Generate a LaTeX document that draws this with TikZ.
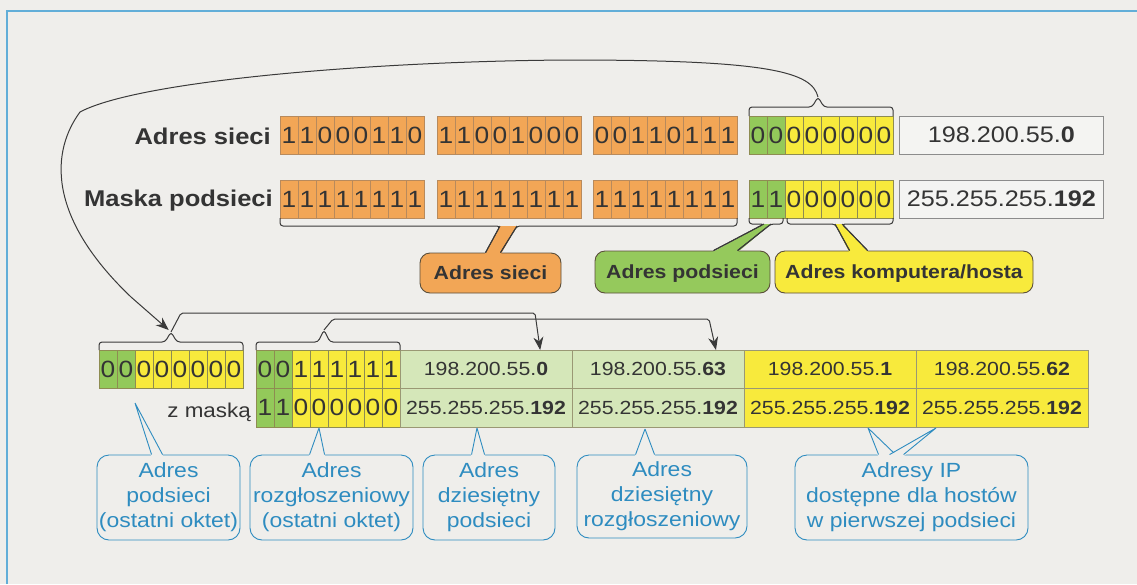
\documentclass[tikz,border=0pt]{standalone}
\usepackage{fontspec}
\setmainfont{Liberation Sans}[FakeStretch=1.12]
\usetikzlibrary{arrows.meta,calc}

\definecolor{paper}{HTML}{EFEEEB}
\definecolor{framecol}{HTML}{62AED8}
\definecolor{ink}{HTML}{343434}
\definecolor{linkgray}{HTML}{3A3A3A}
\definecolor{orangeA}{HTML}{F2A656}
\definecolor{orangeB}{HTML}{F2A656}
\definecolor{orangeedge}{HTML}{B88A5C}
\definecolor{splitA}{HTML}{93C95A}
\definecolor{splitB}{HTML}{F8EA3C}
\definecolor{splitedge}{HTML}{8E8C52}
\definecolor{palegreen}{HTML}{D5E7B9}
\definecolor{tableedge}{HTML}{9A9874}
\definecolor{boxedge}{HTML}{8C8C8C}
\definecolor{boxfill}{HTML}{F4F4F2}
\definecolor{noteorange}{HTML}{F2A656}
\definecolor{notegreen}{HTML}{95C95C}
\definecolor{noteyellow}{HTML}{F8EA3C}
\definecolor{noteedge}{HTML}{5A4E3A}
\definecolor{blueedge}{HTML}{2E8CC0}

% one octet of bit cells: name, left x, centre y, height, colour kind, digits
\newcommand{\octet}[6]{%
  \foreach \d [count=\i] in {#6} {%
    \ifnum\i<3 \def\cellfill{#5A}\else\def\cellfill{#5B}\fi
    \node[bitcell, minimum height=#4, fill=\cellfill, draw=#5edge]
      (#1-\i) at ({#2+(\i-1)*18},#3) {\d};
  }%
}
% pointer of a callout: fill, edge style, tip left, tip right, base left, base right
\newcommand{\calloutwedge}[6]{%
  \fill[#1] (#3) -- (#4) -- ($(#6)+(0.5,1.3)$) -- ($(#5)+(-0.5,1.3)$) -- cycle;
  \draw[#2] (#5) -- (#3) (#4) -- (#6);%
}

\begin{document}
\begin{tikzpicture}[x=1pt,y=-1pt,
  link/.style={draw=linkgray, line width=1pt},
  tipped/.style={-{Stealth[length=13pt,width=10pt]}},
  bitcell/.style={anchor=west, minimum width=18pt, inner sep=0pt, outer sep=0pt,
    line width=0.6pt, text=ink, font=\fontsize{23.5}{24}\selectfont},
  rowlabel/.style={anchor=base east, inner sep=0pt, text=ink,
    font=\fontsize{22.8}{24}\selectfont\bfseries},
  decbox/.style={anchor=west, minimum width=204pt, minimum height=38pt, inner sep=0pt,
    draw=boxedge, fill=boxfill, line width=0.7pt, text=ink,
    font=\fontsize{22.5}{24}\selectfont},
  cell/.style={anchor=north west, minimum width=172pt, minimum height=38.5pt,
    inner sep=0pt, outer sep=0pt, draw=tableedge, line width=0.6pt, text=ink,
    font=\fontsize{19}{20}\selectfont},
  tagnote/.style={rounded corners=10pt, draw=noteedge, line width=0.9pt, inner sep=0pt,
    text=ink, text height=13.6pt, text depth=0pt,
    font=\fontsize{19}{20}\selectfont\bfseries},
  bluenote/.style={rounded corners=12pt, draw=blueedge, fill=paper, line width=0.9pt,
    inner sep=0pt, align=center, text=blueedge, minimum height=85pt,
    font=\fontsize{20.5}{25}\selectfont},
  blueline/.style={draw=blueedge, line width=0.9pt}
]
% page
\fill[paper] (0,0) rectangle (1137,584);
\useasboundingbox (0,0) rectangle (1137,584);
\draw[framecol, line width=1.1pt] (7,584) -- (7,11) -- (1137,11);

% ---------- network address and mask ----------
\node[rowlabel] (lblnet) at (271,144) {Adres sieci};
\node[rowlabel] (lblmask) at (273,206) {Maska podsieci};

\octet{a1}{280}{135}{38pt}{orange}{1,1,0,0,0,1,1,0}
\octet{a2}{437}{135}{38pt}{orange}{1,1,0,0,1,0,0,0}
\octet{a3}{593}{135}{38pt}{orange}{0,0,1,1,0,1,1,1}
\octet{a4}{749}{135}{38pt}{split}{0,0,0,0,0,0,0,0}
\node[decbox] (netdec) at (899,135) {198.200.55.\textbf{0}};

\octet{m1}{280}{199}{38pt}{orange}{1,1,1,1,1,1,1,1}
\octet{m2}{437}{199}{38pt}{orange}{1,1,1,1,1,1,1,1}
\octet{m3}{593}{199}{38pt}{orange}{1,1,1,1,1,1,1,1}
\octet{m4}{749}{199}{38pt}{split}{1,1,0,0,0,0,0,0}
\node[decbox] (maskdec) at (899,199) {255.255.255.\textbf{192}};

% ---------- tags under the mask ----------
\node[tagnote, fill=noteorange, minimum width=141pt, minimum height=40pt]
  (tagnet) at (490.5,273) {Adres sieci};
\node[tagnote, fill=notegreen, minimum width=175pt, minimum height=42pt]
  (tagsub) at (682.5,272) {Adres podsieci};
\node[tagnote, fill=noteyellow, minimum width=258pt, minimum height=42pt]
  (taghost) at (904,272) {Adres komputera/hosta};

\coordinate (bnl) at (500,226);
\coordinate (bnr) at (517,226);
\coordinate (bnbl) at ($(tagnet.north west)+(66,0)$);
\coordinate (bnbr) at ($(tagnet.north west)+(81,0)$);
\calloutwedge{noteorange}{link}{bnl}{bnr}{bnbl}{bnbr}
\draw[link, rounded corners=3pt] (m1-1.south west) -- ++(0,8) -- (bnl) -- (bnbl);
\draw[link, rounded corners=3pt] (m3-8.south east) -- ++(0,8) -- (bnr) -- (bnbr);

\coordinate (bsl) at (764,224);
\coordinate (bsr) at (771,224);
\coordinate (bsbl) at ($(tagsub.north west)+(119,0)$);
\coordinate (bsbr) at ($(tagsub.north west)+(143,0)$);
\calloutwedge{notegreen}{link}{bsl}{bsr}{bsbl}{bsbr}
\draw[link, rounded corners=3pt] (m4-1.south west) -- ++(0,6) -- (bsl) -- (bsbl);
\draw[link, rounded corners=3pt] ($(m4-2.south east)+(-2,0)$) -- ++(0,6) -- (bsr) -- (bsbr);

\coordinate (bhl) at (835,224);
\coordinate (bhr) at (842,224);
\coordinate (bhbl) at ($(taghost.north west)+(75,0)$);
\coordinate (bhbr) at ($(taghost.north west)+(93,0)$);
\calloutwedge{noteyellow}{link}{bhl}{bhr}{bhbl}{bhbr}
\draw[link, rounded corners=3pt] ($(m4-3.south west)+(2,0)$) -- ++(0,6) -- (bhl) -- (bhbl);
\draw[link, rounded corners=3pt] (m4-8.south east) -- ++(0,6) -- (bhr) -- (bhbr);

% ---------- first subnet ----------
\octet{bl}{99}{369}{38pt}{split}{0,0,0,0,0,0,0,0}
\octet{ga}{256}{369.25}{38.5pt}{split}{0,0,1,1,1,1,1,1}
\octet{gb}{256}{407.75}{38.5pt}{split}{1,1,0,0,0,0,0,0}
\node[anchor=base east, inner sep=0pt, text=ink, font=\fontsize{20}{22}\selectfont]
  (withmask) at (251,417) {z maską};

\node[cell, fill=palegreen] (c1) at (400,350) {198.200.55.\textbf{0}};
\node[cell, fill=palegreen] (c2) at (572,350) {198.200.55.\textbf{63}};
\node[cell, fill=splitB] (c3) at (744,350) {198.200.55.\textbf{1}};
\node[cell, fill=splitB] (c4) at (916,350) {198.200.55.\textbf{62}};
\node[cell, fill=palegreen] (d1) at (400,388.5) {255.255.255.\textbf{192}};
\node[cell, fill=palegreen] (d2) at (572,388.5) {255.255.255.\textbf{192}};
\node[cell, fill=splitB] (d3) at (744,388.5) {255.255.255.\textbf{192}};
\node[cell, fill=splitB] (d4) at (916,388.5) {255.255.255.\textbf{192}};

% brace over the subnet octet of the network address, carried down to the subnet bits
\coordinate (topbrace) at (818,97);
\coordinate (bltip) at (171,332);
\draw[link, rounded corners=3pt] (a4-1.north west) -- ++(0,-9) -- (812,107) -- (topbrace)
  -- (824,107) -- ($(a4-8.north east)+(0,-9)$) -- (a4-8.north east);
\draw[link, tipped, shorten >=3pt] (topbrace) .. controls (812,72) and (770,60) .. (570,60)
  .. controls (380,61) and (140,80) .. (80,112)
  .. controls (52,150) and (45,215) .. (131,297) -- (bltip);

% braces over the subnet and broadcast bits
\draw[link, rounded corners=3pt] (bl-1.north west) -- ++(0,-8) -- (165,342) -- (bltip)
  -- (177,342) -- ($(bl-8.north east)+(0,-8)$) -- (bl-8.north east);
\coordinate (c1in) at ($(c1.north west)!0.815!(c1.north east)$);
\draw[link, tipped, rounded corners=2pt] (bltip) -- (181,313) -- (535,313) -- (c1in);

\coordinate (g2tip) at (324,330);
\draw[link, rounded corners=3pt] (ga-1.north west) -- ++(0,-8) -- (318,342) -- (g2tip)
  -- (330,342) -- ($(ga-8.north east)+(0,-8)$) -- (ga-8.north east);
\coordinate (c2in) at ($(c2.north west)!0.837!(c2.north east)$);
\draw[link, tipped, rounded corners=2pt] (g2tip) -- (333,319) -- (709,319) -- (c2in);

% ---------- explanations ----------
\node[bluenote, minimum width=143pt] (n1) at (168.5,497.5) {Adres\\podsieci\\(ostatni oktet)};
\node[bluenote, minimum width=163pt] (n2) at (331.5,497.5) {Adres\\rozgłoszeniowy\\(ostatni oktet)};
\node[bluenote, minimum width=132pt] (n3) at (489,497.5) {Adres\\dziesiętny\\podsieci};
\node[bluenote, minimum width=170pt, minimum height=83pt] (n4) at (662,496.5) {Adres\\dziesiętny\\rozgłoszeniowy};
\node[bluenote, minimum width=233pt] (n5) at (911.5,497.5) {Adresy IP\\dostępne dla hostów\\w pierwszej podsieci};

\coordinate (p1t) at ($(bl-2.south east)+(0,15)$);
\coordinate (p1l) at ($(n1.north west)+(55,0)$);
\coordinate (p1r) at ($(n1.north west)+(66,0)$);
\calloutwedge{paper}{blueline}{p1t}{p1t}{p1l}{p1r}

\coordinate (p2t) at ($(gb-4.south)+(0,1)$);
\coordinate (p2l) at ($(n2.north west)+(60,0)$);
\coordinate (p2r) at ($(n2.north west)+(75,0)$);
\calloutwedge{paper}{blueline}{p2t}{p2t}{p2l}{p2r}

\coordinate (p3t) at ($(d1.south)+(-9,1)$);
\coordinate (p3l) at ($(n3.north west)+(49,0)$);
\coordinate (p3r) at ($(n3.north west)+(62,0)$);
\calloutwedge{paper}{blueline}{p3t}{p3t}{p3l}{p3r}

\coordinate (p4t) at ($(d2.south)+(-13,2)$);
\coordinate (p4l) at ($(n4.north west)+(59,0)$);
\coordinate (p4r) at ($(n4.north west)+(78,0)$);
\calloutwedge{paper}{blueline}{p4t}{p4t}{p4l}{p4r}

\coordinate (p5at) at ($(d3.south)+(38,1)$);
\coordinate (p5al) at ($(n5.north west)+(84,0)$);
\coordinate (p5ar) at ($(n5.north west)+(101,0)$);
\coordinate (p5bt) at ($(d4.south west)+(20,1)$);
\coordinate (p5bl) at ($(n5.north west)+(95,0)$);
\coordinate (p5br) at ($(n5.north west)+(109,0)$);
\calloutwedge{paper}{blueline}{p5at}{p5at}{p5al}{p5ar}
\calloutwedge{paper}{blueline}{p5bt}{p5bt}{p5bl}{p5br}
\end{tikzpicture}
\end{document}
